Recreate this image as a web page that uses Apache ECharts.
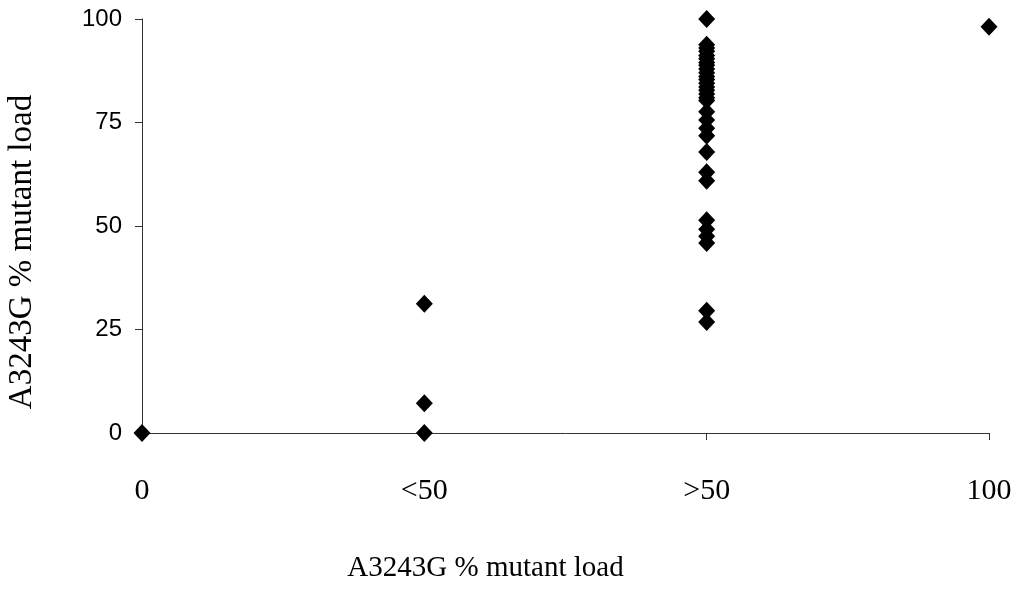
<!DOCTYPE html>
<html>
<head>
<meta charset="utf-8">
<script src="https://cdn.jsdelivr.net/npm/echarts@6/dist/echarts.min.js"></script>
<style>
  html, body { margin: 0; padding: 0; background: #fff; }
  #chart { width: 1022px; height: 589px; }
</style>
</head>
<body>
<div id="chart"></div>
<script>
// Category labels along the x axis (positions 0..3)
const xTickLabels = ['0', '<50', '>50', '100'];
const yTicks = [0, 25, 50, 75, 100];

// Measured mutant load per group
const group0 = [0];
const groupBelow50 = [31.2, 7.2, 0];
const groupAbove50 = [
  100, 93.8, 93.0, 92.2, 91.2, 90.4, 89.5, 88.8, 87.9, 87.0, 86.1, 85.4,
  84.5, 83.6, 82.8, 81.9, 81.0, 80.3,
  77.6, 75.6, 73.6, 71.8, 67.9, 63.0, 60.9,
  51.4, 49.2, 47.5, 45.9, 29.5, 26.8
];
const group100 = [98.1];

const groups = [group0, groupBelow50, groupAbove50, group100];
const points = [];
groups.forEach(function (vals, gi) {
  vals.forEach(function (v) { points.push([gi, v]); });
});

const chart = echarts.init(document.getElementById('chart'));
chart.setOption({
  animation: false,
  backgroundColor: '#fff',
  grid: { left: 142, right: 33, top: 19, bottom: 156, outerBoundsMode: 'none' },
  xAxis: {
    type: 'value',
    min: 0, max: 3, interval: 1,
    name: 'A3243G % mutant load',
    nameLocation: 'middle',
    nameGap: 121,
    nameTextStyle: {
      fontFamily: '"Liberation Serif", "Times New Roman", serif',
      fontSize: 29, color: '#000',
      padding: [0, 160, 0, 0]
    },
    axisLine: { show: true, lineStyle: { color: '#333', width: 1 } },
    axisTick: { show: true, length: 7, lineStyle: { color: '#333' } },
    splitLine: { show: false },
    axisLabel: {
      margin: 43,
      fontFamily: '"Liberation Serif", "Times New Roman", serif',
      fontSize: 30, color: '#000',
      formatter: function (v) { return xTickLabels[v]; }
    }
  },
  yAxis: {
    type: 'value',
    min: 0, max: 100, interval: 25,
    name: 'A3243G % mutant load',
    nameLocation: 'middle',
    nameRotate: 90,
    nameGap: 103,
    nameTextStyle: {
      fontFamily: '"Liberation Serif", "Times New Roman", serif',
      fontSize: 33, color: '#000',
      padding: [0, 52, 0, 0]
    },
    axisLine: { show: true, lineStyle: { color: '#333', width: 1 } },
    axisTick: { show: true, length: 7, lineStyle: { color: '#333' } },
    splitLine: { show: false },
    axisLabel: {
      margin: 20,
      fontFamily: '"Liberation Sans", Arial, sans-serif',
      fontSize: 24, color: '#000',
      formatter: function (v) { return yTicks.indexOf(v) >= 0 ? String(v) : ''; }
    }
  },
  series: [{
    type: 'scatter',
    data: points,
    symbol: 'diamond',
    symbolSize: [17, 18],
    itemStyle: { color: '#000', opacity: 1 },
    z: 5
  }]
});
</script>
</body>
</html>
